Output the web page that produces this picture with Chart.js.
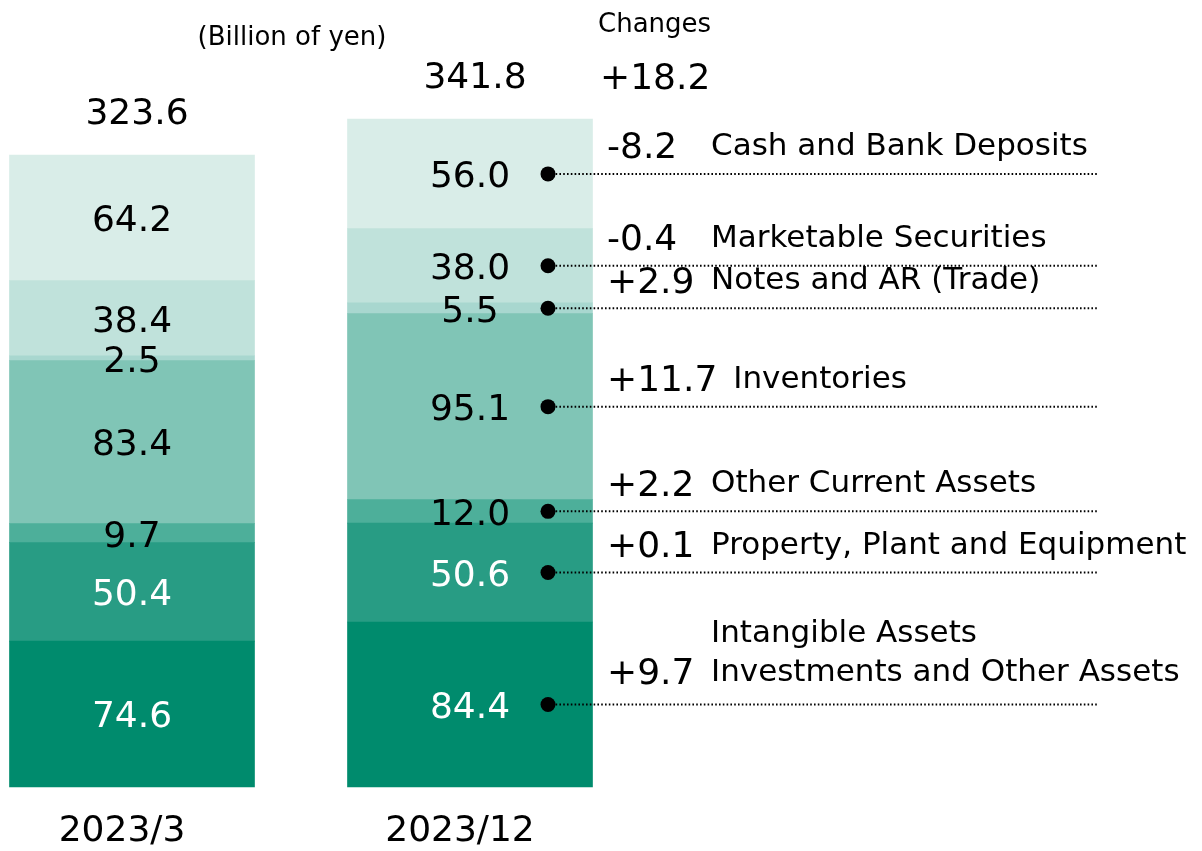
<!DOCTYPE html>
<html>
<head>
<meta charset="utf-8">
<script src="https://cdn.jsdelivr.net/npm/chart.js@4/dist/chart.umd.min.js"></script>
<style>
  html, body { margin: 0; padding: 0; background: #fff; }
  #wrap { width: 1202px; height: 851px; position: relative; }
</style>
</head>
<body>
<div id="wrap"><canvas id="assetsChart"></canvas></div>
<script>
// Current assets breakdown (Billion of yen), bottom of stack first
const categories = ['2023/3', '2023/12'];
const itemNames = [
  ['Intangible Assets', 'Investments and Other Assets'],
  ['Property, Plant and Equipment'],
  ['Other Current Assets'],
  ['Inventories'],
  ['Notes and AR (Trade)'],
  ['Marketable Securities'],
  ['Cash and Bank Deposits']
];
const valuesMar = [74.6, 50.4, 9.7, 83.4, 2.5, 38.4, 64.2];
const valuesDec = [84.4, 50.6, 12.0, 95.1, 5.5, 38.0, 56.0];
const changes = ['+9.7', '+0.1', '+2.2', '+11.7', '+2.9', '-0.4', '-8.2'];
const totals = [323.6, 341.8];
const totalChange = '+18.2';

const colors = ['#008b6d', '#289c84', '#4daf9a', '#80c5b6', '#a8d7cf', '#c0e2db', '#d9ede8'];
const FONT = '"DejaVu Sans", Verdana, sans-serif';

const datasets = valuesMar.map((v, i) => ({
  label: itemNames[i].join(' '),
  data: [v, valuesDec[i], null],
  backgroundColor: colors[i],
  borderWidth: 0,
  barThickness: 245,
  clip: false
}));

// draws value labels, totals, category labels and the change annotations
const annotate = {
  id: 'annotate',
  afterDatasetsDraw(chart) {
    const ctx = chart.ctx;
    const x = chart.scales.x, y = chart.scales.y;
    ctx.save();
    ctx.textBaseline = 'middle';
    ctx.textAlign = 'center';

    // segment values
    chart.data.datasets.forEach((ds, i) => {
      const meta = chart.getDatasetMeta(i);
      [0, 1].forEach(j => {
        const bar = meta.data[j];
        const cy = (bar.y + bar.base) / 2;
        ctx.font = '36px ' + FONT;
        ctx.fillStyle = i < 2 ? '#fff' : '#000';
        ctx.fillText(ds.data[j].toFixed(1), bar.x, cy + 4);
      });
    });

    // totals and category labels
    categories.forEach((c, j) => {
      const cx = x.getPixelForValue(j);
      ctx.font = '36px ' + FONT;
      ctx.fillStyle = '#000';
      ctx.fillText(totals[j].toFixed(1), cx + 5, y.getPixelForValue(totals[j]) - 40);
      ctx.fillText(c, cx - 10, 832);
    });

    ctx.font = '26px ' + FONT;
    ctx.fillText('(Billion of yen)', 292, 38);
    ctx.textAlign = 'left';
    ctx.fillText('Changes', 598, 25);
    ctx.font = '36px ' + FONT;
    ctx.fillText(totalChange, 600, 80);

    // change annotations for the 2023/12 bar
    const dotX = x.getPixelForValue(1) + 78;
    itemNames.forEach((names, i) => {
      const bar = chart.getDatasetMeta(i).data[1];
      const cy = (bar.y + bar.base) / 2;
      ctx.fillStyle = '#000';
      ctx.beginPath();
      ctx.arc(dotX, cy, 7.5, 0, Math.PI * 2);
      ctx.fill();

      ctx.strokeStyle = '#000';
      ctx.lineWidth = 2;
      ctx.setLineDash([1.6, 2.2]);
      ctx.beginPath();
      ctx.moveTo(dotX, cy);
      ctx.lineTo(1097, cy);
      ctx.stroke();
      ctx.setLineDash([]);

      const ty = cy - (names.length > 1 ? 30 : 25);
      ctx.font = '36px ' + FONT;
      ctx.fillText(changes[i], 607, ty);
      const w = ctx.measureText(changes[i]).width;
      ctx.font = '31px ' + FONT;
      const lx = Math.max(711, 607 + w + 16);
      names.forEach((n, k) => {
        ctx.fillText(n, lx, ty - 2 - (names.length - 1 - k) * 39);
      });
    });
    ctx.restore();
  }
};

new Chart(document.getElementById('assetsChart'), {
  type: 'bar',
  data: { labels: [...categories, ''], datasets },
  options: {
    responsive: true,
    maintainAspectRatio: false,
    animation: false,
    layout: { padding: { left: 132, right: 394, top: 5, bottom: 64 } },
    plugins: { legend: { display: false }, tooltip: { enabled: false } },
    scales: {
      x: { display: false, offset: false, stacked: true },
      y: { display: false, stacked: true, min: 0, max: 400 }
    }
  },
  plugins: [annotate]
});
</script>
</body>
</html>
